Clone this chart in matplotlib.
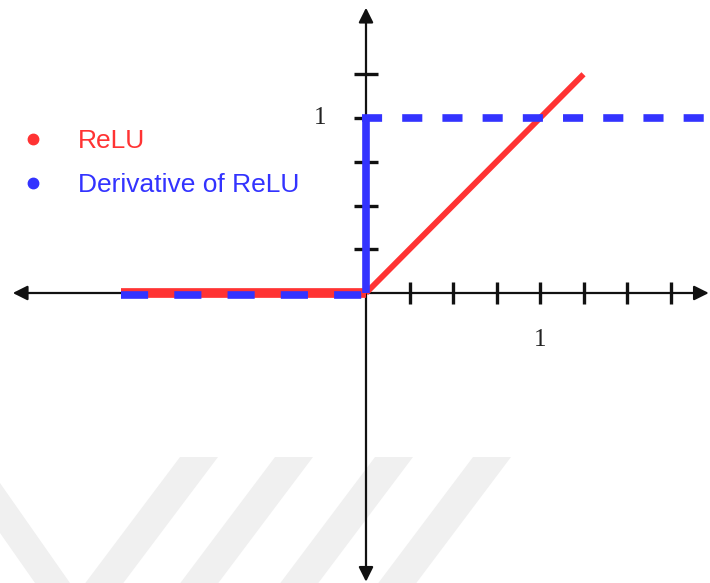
import matplotlib.pyplot as plt
from matplotlib.lines import Line2D
from matplotlib.patches import Polygon

# data
relu_x = [-1.41, 0.0, 1.25]
relu_y = [0.0, 0.0, 1.25]
deriv_neg_x = [-1.41, 0.0]
deriv_neg_y = [0.0, 0.0]
deriv_step_x = [0.0, 0.0]
deriv_step_y = [0.0, 1.0]
deriv_pos_x = [-0.025, 1.97]
deriv_pos_y = [1.0, 1.0]
x_ticks = [0.25, 0.5, 0.75, 1.0, 1.25, 1.5, 1.75]
y_ticks = [0.25, 0.5, 0.75, 1.0, 1.25]
labels = ["ReLU", "Derivative of ReLU"]
red = "#ff3333"
blue = "#3333ff"

W, H = 710, 583
fig = plt.figure(figsize=(W / 100, H / 100), dpi=100)

# faint watermark stripes (pixel coords)
stripe_top = [180, 275, 375, 473]
wm = [[(x0, 457), (x0 + 38, 457), (x0 + 38 - 130, 630), (x0 - 130, 630)]
      for x0 in stripe_top]
wm.append([(0, 483), (70, 583), (35, 583), (0, 533)])
for pts in wm:
    fig.patches.append(Polygon([(px / W, 1 - py / H) for px, py in pts],
                               closed=True, transform=fig.transFigure,
                               facecolor="#f0f0f0", edgecolor="none", zorder=-5))

ax = fig.add_axes([0, 0, 1, 1])
ax.set_xlim(-366 / 174, (W - 366) / 174)
ax.set_ylim(-(H - 293) / 175, 293 / 175)
ax.axis("off")

# axes with arrows
ax.annotate("", xy=(1.97, 0), xytext=(-2.03, 0),
            arrowprops=dict(arrowstyle="<|-|>", mutation_scale=22, lw=1.6,
                            color="#111111", shrinkA=0, shrinkB=0))
ax.annotate("", xy=(0, 1.63), xytext=(0, -1.65),
            arrowprops=dict(arrowstyle="<|-|>", mutation_scale=22, lw=1.6,
                            color="#111111", shrinkA=0, shrinkB=0))

ax.plot(x_ticks, [0] * len(x_ticks), ls="", marker="|", ms=16, mew=2.4,
        color="#111111", zorder=2)
ax.plot([0] * len(y_ticks), y_ticks, ls="", marker="_", ms=17, mew=2.4,
        color="#111111", zorder=2)

ax.text(1.0, -0.27, "1", family="Liberation Serif", fontsize=18,
        ha="center", va="center", color="#222222")
ax.text(-0.265, 1.0, "1", family="Liberation Serif", fontsize=18,
        ha="center", va="center", color="#222222")

# ReLU
ax.plot(relu_x[:2], relu_y[:2], color=red, lw=7, solid_capstyle="butt", zorder=3)
ax.plot(relu_x[1:], relu_y[1:], color=red, lw=4.2, solid_capstyle="butt", zorder=3)

# derivative
ax.plot(deriv_neg_x, [v - 0.012 for v in deriv_neg_y], color=blue, lw=5.5,
        ls=(0, (27 / 7.6, 26 / 7.6)), zorder=4)
ax.plot(deriv_step_x, deriv_step_y, color=blue, lw=5.5, solid_capstyle="butt", zorder=4)
ax.plot(deriv_pos_x, deriv_pos_y, color=blue, lw=5.5,
        ls=(0, (20 / 7.6, 20 / 7.6)), zorder=4)

handles = [Line2D([], [], ls="", marker="o", ms=7.5, color=red),
           Line2D([], [], ls="", marker="o", ms=7.5, color=blue)]
ax.legend(handles, labels, loc="upper left", bbox_to_anchor=(20 / W, 1 - 129 / H),
          bbox_transform=fig.transFigure, frameon=False,
          prop={"family": "Liberation Sans", "size": 19},
          labelcolor=[red, blue], handlelength=1.0, handletextpad=1.2,
          borderpad=0, borderaxespad=0, labelspacing=0.76)

fig.savefig("out.png", dpi=100)
